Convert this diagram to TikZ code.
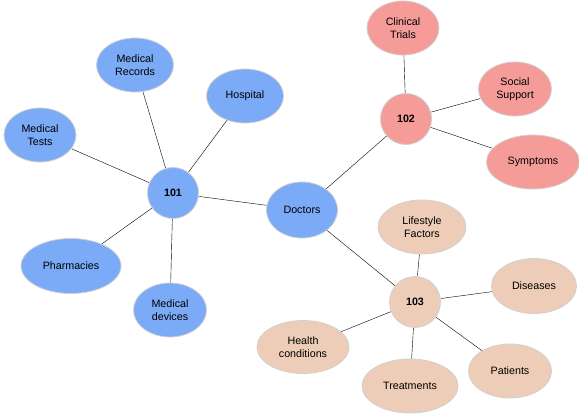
\documentclass[tikz,border=0pt]{standalone}
\usepackage{fontspec}
\setmainfont{Liberation Sans}
\usetikzlibrary{positioning, backgrounds, shapes.geometric}
\definecolor{nodeblue}{HTML}{7BAAF7}
\definecolor{nodered}{HTML}{F59C98}
\definecolor{nodetan}{HTML}{EECDB8}
\definecolor{rimgrey}{HTML}{D0D0D0}
\definecolor{linkgrey}{HTML}{B4B4B4}

\begin{document}
\begin{tikzpicture}[
    x=1pt, y=-1pt,
    bubble/.style={
        ellipse,
        draw=rimgrey,
        line width=0.8pt,
        inner sep=0pt,
        minimum height=54pt,
        align=center,
        font=\fontsize{10.7}{13.2}\selectfont
    },
    hub/.style={
        circle,
        draw=rimgrey,
        line width=0.8pt,
        inner sep=0pt,
        minimum size=51pt,
        font=\fontsize{10.7}{13.2}\selectfont\bfseries
    },
    link/.style={linkgrey, line width=1.2pt}
]

\useasboundingbox (0,0) rectangle (579,415);

% --- HUBS ---
\node[hub, fill=nodeblue] (h101) at (173,193) {101};
\node[hub, fill=nodered]  (h102) at (406,119) {102};
\node[hub, fill=nodetan]  (h103) at (415,302) {103};
\node[bubble, fill=nodeblue, minimum width=71pt, minimum height=56pt] (doctors) at (302,210) {Doctors};

% --- CLUSTER 101 ---
\node[bubble, fill=nodeblue, minimum width=77pt] (records) at (135,65) {Medical\\Records};
\node[bubble, fill=nodeblue, minimum width=77pt] (hospital) at (245,96) {Hospital};
\node[bubble, fill=nodeblue, minimum width=72pt] (tests) at (40,135) {Medical\\Tests};
\node[bubble, fill=nodeblue, minimum width=100pt, minimum height=55pt] (pharmacies) at (71,266) {Pharmacies};
\node[bubble, fill=nodeblue, minimum width=73pt] (devices) at (170,310) {Medical\\devices};

% --- CLUSTER 102 ---
\node[bubble, fill=nodered, minimum width=72pt] (trials) at (403,28) {Clinical\\Trials};
\node[bubble, fill=nodered, minimum width=73pt] (support) at (515,89) {Social\\Support};
\node[bubble, fill=nodered, minimum width=93pt] (symptoms) at (533,162) {Symptoms};

% --- CLUSTER 103 ---
\node[bubble, fill=nodetan, minimum width=88pt] (lifestyle) at (422,227) {Lifestyle\\Factors};
\node[bubble, fill=nodetan, minimum width=85pt, minimum height=55pt] (diseases) at (534,286) {Diseases};
\node[bubble, fill=nodetan, minimum width=92pt, minimum height=53pt] (health) at (303,347) {Health\\conditions};
\node[bubble, fill=nodetan, minimum width=96pt] (treatments) at (410,386) {Treatments};
\node[bubble, fill=nodetan, minimum width=83pt] (patients) at (510,371) {Patients};

% --- LINKS ---
\begin{scope}[on background layer, link]
    \draw (h101) -- (records);
    \draw (h101) -- (hospital);
    \draw (h101) -- (tests);
    \draw (h101) -- (pharmacies);
    \draw (h101) -- (devices);
    \draw (h101) -- (doctors);
    \draw (doctors) -- (h102);
    \draw (doctors) -- (h103);
    \draw (h102) -- (trials);
    \draw (h102) -- (support);
    \draw (h102) -- (symptoms);
    \draw (h103) -- (lifestyle);
    \draw (h103) -- (diseases);
    \draw (h103) -- (health);
    \draw (h103) -- (treatments);
    \draw (h103) -- (patients);
\end{scope}

\end{tikzpicture}
\end{document}
